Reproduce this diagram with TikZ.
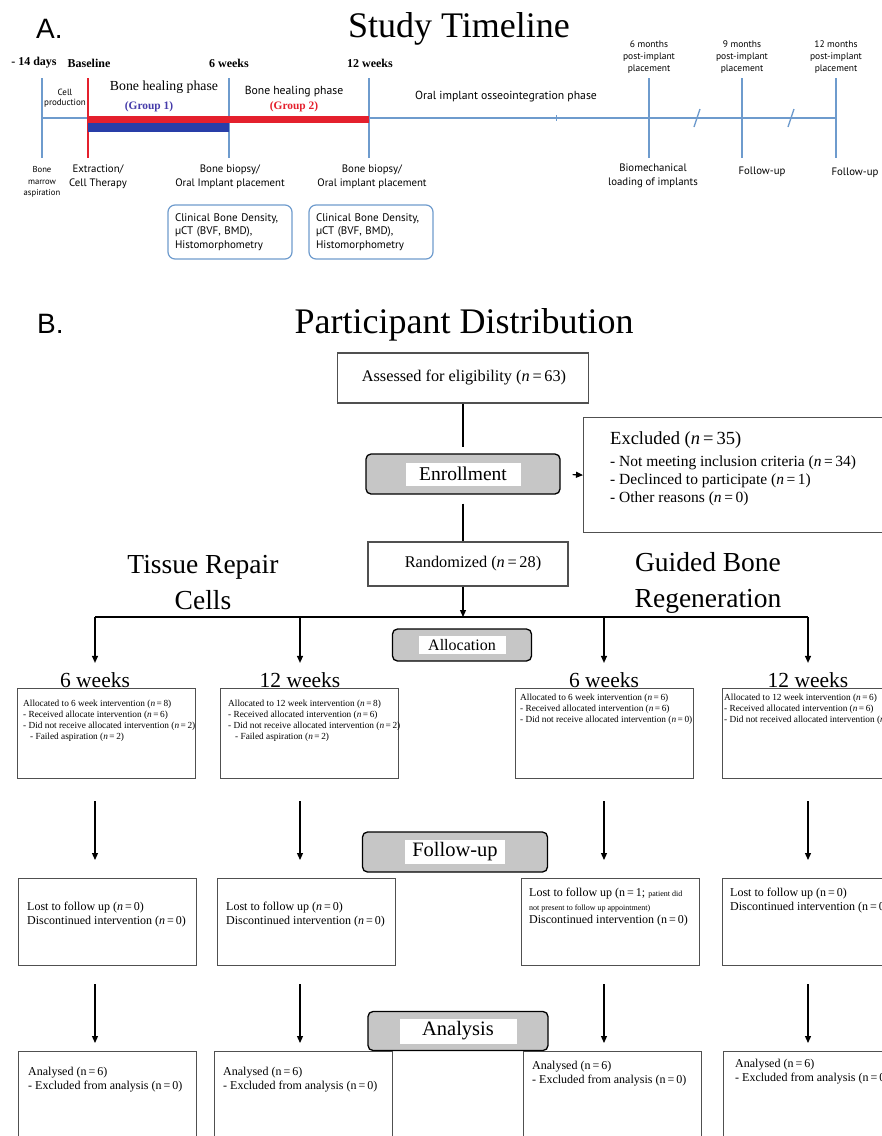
\documentclass[tikz,border=0pt]{standalone}
\usepackage{fontspec}
\setmainfont{Liberation Serif}
\setsansfont{PT Sans}
\newfontfamily\arialfont{Liberation Sans}
\usetikzlibrary{positioning,arrows.meta}
\definecolor{tlblue}{RGB}{110,155,205}
\definecolor{tlred}{RGB}{228,32,45}
\definecolor{tldark}{RGB}{40,62,168}
\definecolor{grpblue}{RGB}{70,60,170}
\definecolor{stagegray}{RGB}{198,198,198}
\definecolor{boxline}{RGB}{80,80,80}
\newcommand{\fsz}[2]{\fontsize{#1}{#2}\selectfont}
\newcommand{\nn}{\textit{n}\,=\,}

\begin{document}
\begin{tikzpicture}[x=1pt,y=-1pt,>={Triangle[length=7pt,width=6pt]},
    tl/.style={draw=tlblue,line width=1.3pt},
    tlhead/.style={font=\bfseries\fsz{12}{14},inner sep=0pt},
    tllow/.style={font=\sffamily\fsz{10.8}{14},align=center,inner sep=0pt},
    evalbox/.style={draw=tlblue,line width=1.2pt,rounded corners=7pt,minimum width=124pt,
        minimum height=54pt,align=left,text width=110pt,font=\sffamily\fsz{11}{13.4}},
    flowbox/.style={draw=boxline,line width=1.2pt,inner sep=0pt,font=\fsz{16.3}{18}},
    stage/.style={draw=black,line width=1.3pt,fill=stagegray,rounded corners=5pt},
    stagetxt/.style={fill=white,inner sep=0pt,font=\fsz{20.5}{22}},
    heading/.style={anchor=base,font=\fsz{21.5}{24},inner sep=0pt},
    group/.style={font=\fsz{27.5}{36},align=center,inner sep=0pt},
    boxtxt/.style={anchor=north west,align=left,inner sep=0pt},
    conn/.style={line width=1.2pt}
]
\useasboundingbox (0,0) rectangle (882,1136);
\clip (0,0) rectangle (882,1136);

% ---------- A. Study timeline
\node[anchor=base west,font=\arialfont\fsz{28}{30},inner sep=0pt] (labA) at (36,38) {A.};
\node[anchor=base,font=\fsz{36}{40},inner sep=0pt] (titleA) at (459,37) {Study Timeline};

\draw[tl] (42,118) -- (836,118);
\foreach \x in {42,229,369,649,742,836}
    \draw[tl] (\x,78) -- (\x,158);
\draw[tlred,line width=1.3pt] (88,78) -- (88,158);
\fill[tlred] (88,115.5) rectangle (369,123);
\fill[tldark] (88,123) rectangle (229,131.5);
\draw[tl,line width=0.8pt] (556,115) -- (556,121);
\draw[tl] (694,127) -- (700,109);
\draw[tl] (788,127) -- (794,109);

\node[tlhead] (t0) at (34,63) {- 14 days};
\node[tlhead] (t1) at (89,63) {Baseline};
\node[tlhead] (t2) at (229,63) {6 weeks};
\node[tlhead] (t3) at (370,63) {12 weeks};

\node[font=\sffamily\fsz{9}{10.5},align=center,inner sep=0pt] (cellprod) at (65,98) {Cell\\production};
\node[font=\fsz{13.8}{15},inner sep=0pt] (phase1) at (164,87) {Bone healing phase};
\node[font=\bfseries\fsz{11.4}{13},text=grpblue,inner sep=0pt] (grp1) at (149,107) {(Group 1)};
\node[font=\sffamily\fsz{11.7}{13},inner sep=0pt] (phase2) at (294,92) {Bone healing phase};
\node[font=\bfseries\fsz{11.4}{13},text=tlred,inner sep=0pt] (grp2) at (294,107) {(Group 2)};
\node[font=\sffamily\fsz{11.7}{13},inner sep=0pt] (phase3) at (506,97) {Oral implant osseointegration phase};

\foreach \x/\m in {649/6,742/9,836/12}
    \node[font=\sffamily\fsz{9.5}{12.3},align=center,inner sep=0pt] (mon\m) at (\x,57) {\m~months\\post-implant\\placement};

\node[tllow,font=\sffamily\fsz{8.6}{11.5}] (marrow) at (42,182) {Bone\\marrow\\aspiration};
\node[tllow] (extract) at (98,177) {Extraction/\\Cell Therapy};
\node[tllow] (biopsy6) at (230,177) {Bone biopsy/\\Oral Implant placement};
\node[tllow] (biopsy12) at (372,177) {Bone biopsy/\\Oral implant placement};
\node[tllow] (loading) at (653,176) {Biomechanical\\loading of implants};
\node[tllow] (follow9) at (762,172) {Follow-up};
\node[tllow] (follow12) at (855,173) {Follow-up};

\node[evalbox] (eval6) at (230,232) {Clinical Bone Density,\\µCT (BVF, BMD),\\Histomorphometry};
\node[evalbox] (eval12) at (371,232) {Clinical Bone Density,\\µCT (BVF, BMD),\\Histomorphometry};

% ---------- B. Participant distribution
\node[anchor=base west,font=\arialfont\fsz{28}{30},inner sep=0pt] (labB) at (37,333) {B.};
\node[anchor=base,font=\fsz{36}{40},inner sep=0pt] (titleB) at (464,333) {Participant Distribution};

\node[flowbox,minimum width=251pt,minimum height=50pt] (assess) at (463,378) {\hspace{2pt}Assessed for eligibility (\nn 63)};

\node[stage,minimum width=194pt,minimum height=40pt] (enroll) at (463,474) {};
\node[stagetxt,minimum width=115pt,minimum height=23pt,font=\fsz{19.5}{21}] (enrolltxt) at (enroll) {Enrollment};

\node[flowbox,anchor=north west,minimum width=320pt,minimum height=115pt] (excl) at (583,417) {};
\node[anchor=west,font=\fsz{18.5}{20},inner sep=0pt] (excltitle) at (610,440) {Excluded (\nn 35)};
\node[boxtxt,font=\fsz{15.5}{18}] (excllist) at (610,456) {- Not meeting inclusion criteria (\nn 34)\\- Declinced to participate (\nn 1)\\- Other reasons (\nn 0)};

\node[flowbox,minimum width=200pt,minimum height=44pt] (rand) at (468,564) {\hspace{10pt}Randomized (\nn 28)};

\draw[conn,shorten >=6pt] (assess.south) -- (enroll.north);
\draw[conn,shorten <=9pt] (enroll.south) -- (enroll.south |- rand.north);
\draw[conn,->,shorten <=12pt] (enroll.east) -- (excl.west);

\coordinate (split) at (463,617);
\foreach \c/\x in {1/95,2/300,3/604,4/808}
    \coordinate (col\c) at (\x,617);
\draw[conn] (col1) -- (col4);
\draw[conn,->] (rand.south -| split) -- (split);

\node[group] (trc) at (203,583) {Tissue Repair\\Cells};
\node[group] (gbr) at (708,583) {Guided Bone\\Regeneration};

\node[stage,minimum width=139pt,minimum height=32pt] (alloc) at (462,645) {};
\node[stagetxt,minimum width=87pt,minimum height=18pt,font=\fsz{16}{18}] (alloctxt) at (alloc) {Allocation};

\foreach \c/\x/\w in {1/95/6,2/300/12,3/604/6,4/808/12}{
    \node[heading] (head\c) at (\x,687) {\w~weeks};
    \draw[conn,->,shorten >=9pt] (col\c) -- (col\c |- head\c.north);
}

% allocation boxes
\foreach \c/\x in {1/17,2/220,3/515,4/722}
    \node[flowbox,anchor=north west,minimum width=178pt,minimum height=90pt] (al\c) at (\x,688) {};
\node[boxtxt,font=\fsz{9.3}{10.8}] (al1txt) at ([shift={(6,12)}]al1.north west)
    {Allocated to 6 week intervention (\nn 8)\\- Received allocate intervention (\nn 6)\\- Did not receive allocated intervention (\nn 2)\\\hspace{7pt}- Failed aspiration (\nn 2)};
\node[boxtxt,font=\fsz{9.3}{10.8}] (al2txt) at ([shift={(8,12)}]al2.north west)
    {Allocated to 12 week intervention (\nn 8)\\- Received allocated intervention (\nn 6)\\- Did not receive allocated intervention (\nn 2)\\\hspace{7pt}- Failed aspiration (\nn 2)};
\node[boxtxt,font=\fsz{9.3}{10.8}] (al3txt) at ([shift={(5,6)}]al3.north west)
    {Allocated to 6 week intervention (\nn 6)\\- Received allocated intervention (\nn 6)\\- Did not receive allocated intervention (\nn 0)};
\node[boxtxt,font=\fsz{9.3}{10.8}] (al4txt) at ([shift={(2,6)}]al4.north west)
    {Allocated to 12 week intervention (\nn 6)\\- Received allocated intervention (\nn 6)\\- Did not received allocated intervention (\nn 0)};

% follow-up
\foreach \c/\x in {1/18,2/217,3/521,4/722}
    \node[flowbox,anchor=north west,minimum width=178pt,minimum height=87pt] (fu\c) at (\x,878) {};
\node[boxtxt,font=\fsz{12}{13.5}] (fu1txt) at ([shift={(9,24)}]fu1.north west)
    {Lost to follow up (\nn 0)\\Discontinued intervention (\nn 0)};
\node[boxtxt,font=\fsz{12}{13.5}] (fu2txt) at ([shift={(9,24)}]fu2.north west)
    {Lost to follow up (\nn 0)\\Discontinued intervention (\nn 0)};
\node[boxtxt,font=\fsz{12}{13.5}] (fu3txt) at ([shift={(8,10)}]fu3.north west)
    {Lost to follow up (n\,=\,1; {\fsz{8}{13.5}patient did}\\{\fsz{8}{13.5}not present to follow up appointment)}\\Discontinued intervention (n\,=\,0)};
\node[boxtxt,font=\fsz{12}{13.5}] (fu4txt) at ([shift={(8,10)}]fu4.north west)
    {Lost to follow up (n\,=\,0)\\Discontinued intervention (n\,=\,0)};
\node[stage,minimum width=185pt,minimum height=40pt] (fustage) at (455,852) {};
\node[stagetxt,minimum width=100pt,minimum height=24pt] (fustagetxt) at (fustage) {Follow-up};

% analysis
\foreach \c/\x in {1/18,2/214,3/523,4/723}
    \node[flowbox,anchor=north west,minimum width=178pt,minimum height=100pt] (an\c) at (\x,1051) {};
\node[boxtxt,font=\fsz{12}{13.5}] (an1txt) at ([shift={(10,16)}]an1.north west)
    {Analysed (n\,=\,6)\\- Excluded from analysis (n\,=\,0)};
\node[boxtxt,font=\fsz{12}{13.5}] (an2txt) at ([shift={(9,16)}]an2.north west)
    {Analysed (n\,=\,6)\\- Excluded from analysis (n\,=\,0)};
\node[boxtxt,font=\fsz{12}{13.5}] (an3txt) at ([shift={(9,10)}]an3.north west)
    {Analysed (n\,=\,6)\\- Excluded from analysis (n\,=\,0)};
\node[boxtxt,font=\fsz{12}{13.5}] (an4txt) at ([shift={(12,8)}]an4.north west)
    {Analysed (n\,=\,6)\\- Excluded from analysis (n\,=\,0)};
\node[stage,minimum width=180pt,minimum height=39pt] (anstage) at (458,1031) {};
\node[stagetxt,minimum width=117pt,minimum height=25pt] (anstagetxt) at (anstage) {Analysis};

% column arrows
\foreach \c in {1,...,4}{
    \draw[conn,->,shorten <=22pt,shorten >=18pt] (al\c.south -| col\c) -- (fu\c.north -| col\c);
    \draw[conn,->,shorten <=18pt,shorten >=8pt] (fu\c.south -| col\c) -- (an\c.north -| col\c);
}
\end{tikzpicture}
\end{document}
